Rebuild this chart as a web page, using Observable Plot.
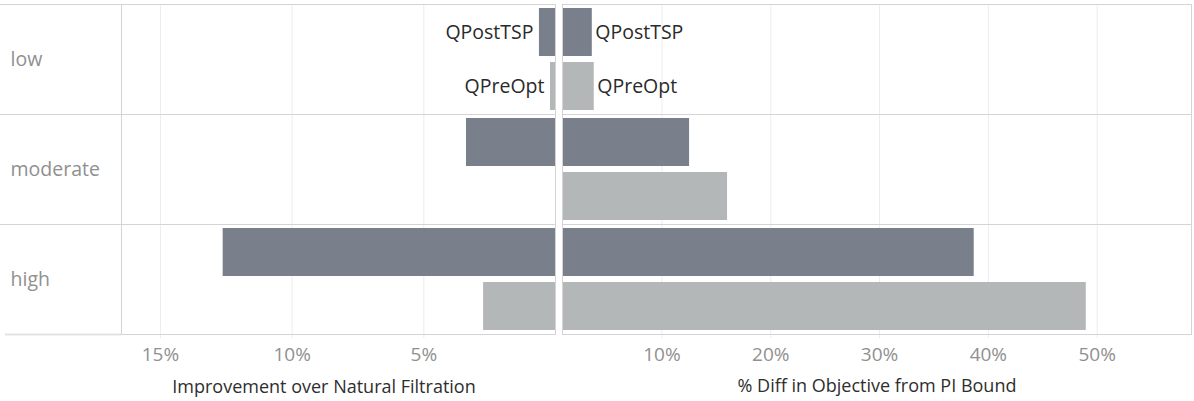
<!DOCTYPE html>
<html>
<head>
<meta charset="utf-8">
<script src="https://cdn.jsdelivr.net/npm/d3@7"></script>
<script src="https://cdn.jsdelivr.net/npm/@observablehq/plot@0.6"></script>
<style>
  html, body { margin: 0; padding: 0; background: #fff; }
  #chart { position: relative; width: 1194px; height: 401px; overflow: hidden; font-family: "Open Sans", sans-serif; }
  #chart > .panel { position: absolute; top: 0; }
  .title { position: absolute; font-size: 18px; font-weight: 400; color: #2e2e2e; white-space: nowrap; transform: translate(-50%, -50%); }
</style>
</head>
<body>
<div id="chart"></div>
<script>
// ---- data (percent values) ----
const categories = ["low", "moderate", "high"];
const series = ["QPostTSP", "QPreOpt"];
const improvementPostTSP = [0.61, 3.38, 12.62];
const improvementPreOpt = [0.19, 0, 2.73];
const diffPostTSP = [3.60, 12.54, 38.70];
const diffPreOpt = [3.78, 16.03, 49.0];
const leftTicks = [5, 10, 15];
const rightTicks = [10, 20, 30, 40, 50];
const leftTitle = "Improvement over Natural Filtration";
const rightTitle = "% Diff in Objective from PI Bound";
const labelledCategory = "low";

const colors = ["#79808c", "#b4b7b8"];

function table(a, b) {
  const rows = [];
  categories.forEach((c, i) => {
    rows.push({category: c, series: series[0], value: a[i]});
    rows.push({category: c, series: series[1], value: b[i]});
  });
  return rows;
}
const leftData = table(improvementPostTSP, improvementPreOpt);
const rightData = table(diffPostTSP, diffPreOpt);

const H = 364, MT = 3, MB = 30;
const common = {
  height: H, marginTop: MT, marginBottom: MB,
  style: {fontFamily: "Open Sans, sans-serif", fontSize: "19px", background: "transparent", overflow: "visible"},
  y: {domain: series, paddingInner: 0.109, paddingOuter: 0.0665, axis: null},
  fy: {domain: categories, padding: 0, axis: null},
  color: {domain: series, range: colors}
};
const gridStroke = "#ededed";
const frameStroke = "#d4d4d4";
const tickFill = "#909090";

const left = Plot.plot({
  ...common,
  width: 557, marginLeft: 121, marginRight: 2,
  x: {domain: [0, 16.48], reverse: true},
  marks: [
    Plot.gridX(leftTicks, {stroke: gridStroke, strokeOpacity: 1}),
    Plot.axisX(leftTicks, {tickFormat: d => d + "%", tickSize: 4, tickPadding: 9, stroke: gridStroke, fill: tickFill, label: null, fontSize: 19}),
    Plot.barX(leftData, {x: "value", y: "series", fy: "category", fill: "series"}),
    Plot.text(leftData.filter(d => d.category === labelledCategory), {x: "value", y: "series", fy: "category", text: "series", textAnchor: "end", dx: -6, fill: "#2a2a2a", fontSize: 19.5}),
    Plot.text(categories, {fy: d => d, text: d => d, frameAnchor: "left", textAnchor: "start", dx: -111, fill: tickFill, fontSize: 19.5}),
    Plot.frame({stroke: frameStroke})
  ]
});

const right = Plot.plot({
  ...common,
  width: 637, marginLeft: 5, marginRight: 3,
  x: {domain: [0.86, 58.67]},
  marks: [
    Plot.gridX(rightTicks, {stroke: gridStroke, strokeOpacity: 1}),
    Plot.axisX(rightTicks, {tickFormat: d => d + "%", tickSize: 4, tickPadding: 9, stroke: gridStroke, fill: tickFill, label: null, fontSize: 19}),
    Plot.barX(rightData, {x: "value", y: "series", fy: "category", fill: "series", clip: true}),
    Plot.text(rightData.filter(d => d.category === labelledCategory), {x: "value", y: "series", fy: "category", text: "series", textAnchor: "start", dx: 3, fill: "#2a2a2a", fontSize: 19.5}),
    Plot.frame({stroke: frameStroke})
  ]
});

// row separator lines across the header area, derived from the fy scale
(function () {
  const fy = left.scale("fy");
  const svg = d3.select(left);
  const ys = categories.map(c => fy.apply(c));
  ys.push(ys[ys.length - 1] + fy.bandwidth);
  ys.forEach((y, i) => {
    const last = i === ys.length - 1;
    svg.append("line")
      .attr("x1", last ? 5 : 0).attr("x2", 121)
      .attr("y1", Math.round(y) + 0.5).attr("y2", Math.round(y) + 0.5)
      .attr("stroke", last ? "#e3e3e3" : frameStroke)
      .attr("stroke-width", last ? 2 : 1);
  });
})();

const chart = document.getElementById("chart");
left.classList.add("panel"); left.style.left = "0px";
right.classList.add("panel"); right.style.left = "557px";
chart.appendChild(left);
chart.appendChild(right);

function addTitle(text, cx, cy) {
  const d = document.createElement("div");
  d.className = "title";
  d.textContent = text;
  d.style.left = cx + "px";
  d.style.top = cy + "px";
  chart.appendChild(d);
}
addTitle(leftTitle, 324, 386);
addTitle(rightTitle, 877, 385);
</script>
</body>
</html>
